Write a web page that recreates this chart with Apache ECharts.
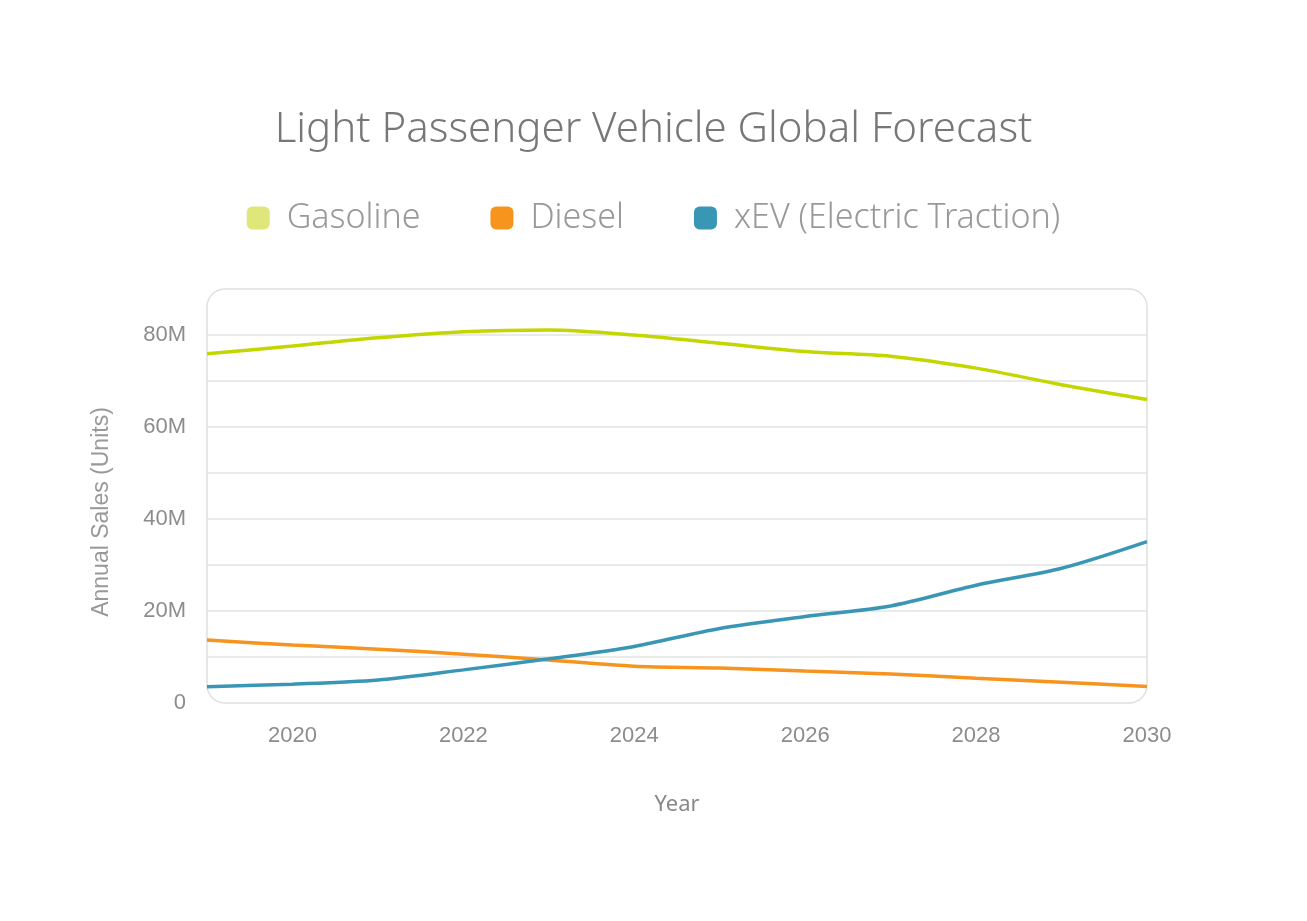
<!DOCTYPE html>
<html>
<head>
<meta charset="utf-8">
<title>Light Passenger Vehicle Global Forecast</title>
<script src="https://cdn.jsdelivr.net/npm/echarts@6/dist/echarts.min.js"></script>
<style>
  html, body { margin: 0; padding: 0; background: #fff; }
  #chart { width: 1307px; height: 921px; }
</style>
</head>
<body>
<div id="chart"></div>
<script>
// years on the x axis
var years = ['2019', '2020', '2021', '2022', '2023', '2024', '2025', '2026', '2027', '2028', '2029', '2030'];
// annual sales, units
var gasoline = [75.9e6, 77.6e6, 79.4e6, 80.7e6, 81.1e6, 80.0e6, 78.2e6, 76.4e6, 75.4e6, 72.8e6, 69.2e6, 66.0e6];
var diesel = [13.7e6, 12.6e6, 11.7e6, 10.6e6, 9.35e6, 8.0e6, 7.6e6, 6.95e6, 6.3e6, 5.4e6, 4.5e6, 3.6e6];
var xev = [3.55e6, 4.1e6, 5.0e6, 7.2e6, 9.6e6, 12.3e6, 16.2e6, 18.8e6, 21.1e6, 25.6e6, 29.3e6, 35.1e6];
var seriesNames = ['Gasoline', 'Diesel', 'xEV (Electric Traction)'];

var lineColors = ['#c4d600', '#f7941d', '#3a96b5'];
var legendColors = ['#dfe67a', '#f7941d', '#3a96b5'];

var gridBox = { left: 207, right: 160, top: 289, bottom: 218 };

var chart = echarts.init(document.getElementById('chart'));

chart.setOption({
    animation: false,
    backgroundColor: '#fff',
    title: {
        text: 'Light Passenger Vehicle Global Forecast',
        left: 'center',
        top: 104,
        textStyle: {
            fontFamily: 'Noto Sans',
            fontWeight: 300,
            fontSize: 42,
            color: '#777'
        }
    },
    legend: {
        top: 196,
        left: 'center',
        icon: 'roundRect',
        itemWidth: 23,
        itemHeight: 23,
        itemGap: 70,
        data: seriesNames.map(function (n, i) {
            return { name: n, itemStyle: { color: legendColors[i] } };
        }),
        textStyle: {
            fontFamily: 'Noto Sans',
            fontWeight: 300,
            fontSize: 34,
            color: '#999',
            padding: [0, 0, 0, 12]
        }
    },
    graphic: [{
        type: 'rect',
        z: 0,
        silent: true,
        shape: {
            x: gridBox.left,
            y: gridBox.top,
            width: 1307 - gridBox.left - gridBox.right,
            height: 921 - gridBox.top - gridBox.bottom,
            r: 18
        },
        style: { fill: 'none', stroke: '#e0e0e0', lineWidth: 1.5 }
    }],
    grid: gridBox,
    xAxis: {
        type: 'category',
        data: years,
        boundaryGap: false,
        name: 'Year',
        nameLocation: 'middle',
        nameGap: 91,
        nameTextStyle: { fontFamily: 'Noto Sans', fontSize: 22, color: '#888' },
        axisLine: { show: false },
        axisTick: { show: false },
        splitLine: { show: false },
        axisLabel: {
            interval: function (idx, val) { return Number(val) % 2 === 0; },
            margin: 22,
            fontFamily: 'Liberation Sans',
            fontSize: 22,
            color: '#8c8c8c'
        }
    },
    yAxis: {
        type: 'value',
        min: 0,
        max: 90e6,
        interval: 10e6,
        name: 'Annual Sales (Units)',
        nameLocation: 'middle',
        nameGap: 94,
        nameTextStyle: {
            fontFamily: 'Liberation Sans',
            fontSize: 23,
            color: '#999',
            padding: [0, 32, 0, 0]
        },
        axisLine: { show: false },
        axisTick: { show: false },
        axisLabel: {
            margin: 21,
            fontFamily: 'Liberation Sans',
            fontSize: 22,
            color: '#8c8c8c',
            formatter: function (v) {
                if (v === 0) return '0';
                if (v % 20e6 !== 0 || v >= 90e6) return '';
                return (v / 1e6) + 'M';
            }
        },
        splitLine: {
            lineStyle: {
                width: 1.5,
                color: ['transparent', '#e3e3e3', '#e3e3e3', '#e3e3e3', '#e3e3e3',
                        '#e3e3e3', '#e3e3e3', '#e3e3e3', '#e3e3e3', 'transparent']
            }
        }
    },
    series: [gasoline, diesel, xev].map(function (d, i) {
        return {
            name: seriesNames[i],
            type: 'line',
            data: d,
            smooth: 0.3,
            showSymbol: false,
            color: lineColors[i],
            lineStyle: { width: 3.5, color: lineColors[i] },
            z: 3
        };
    })
});
</script>
</body>
</html>
